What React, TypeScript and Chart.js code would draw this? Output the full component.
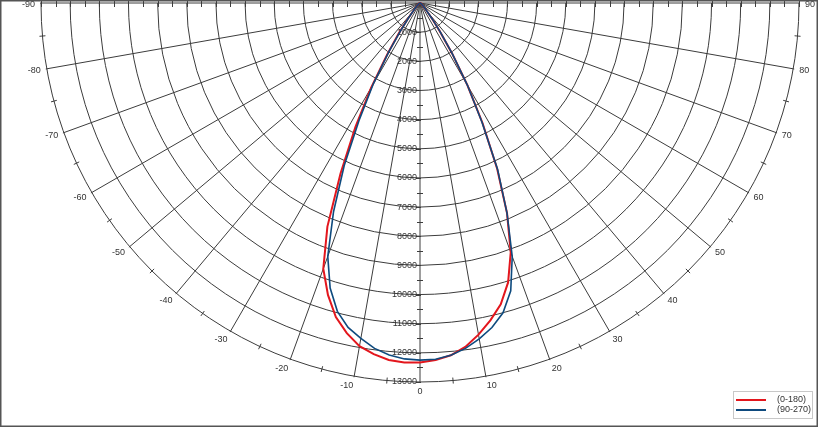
import React, { useEffect, useRef } from "react";
import { Chart, registerables } from "chart.js";

Chart.register(...registerables);

// Angles (degrees, 0 = straight down, negative = left)
const angles = [
  -90, -80, -70, -60, -50, -45, -40, -37.5, -35, -32.5, -30, -27.5, -25, -22.5, -20, -17.5, -15, -12.5, -10, -7.5,
  -5, -2.5, 0, 2.5, 5, 7.5, 10, 12.5, 15, 17.5, 20, 22.5, 25, 27.5, 30, 32.5, 35, 37.5, 40, 45, 50, 60, 70, 80, 90,
];

// Luminous intensity (cd) – plane C0-C180
const red0180 = [
  0, 10, 20, 40, 90, 170, 370, 700, 1250, 2100, 3350, 4800, 6450, 8300, 9700, 10500, 11150, 11600, 11950, 12150,
  12290, 12340, 12330, 12260, 12130, 11900, 11550, 11150, 10700, 10050, 9100, 7800, 6250, 4650, 3250, 2050, 1200, 700,
  370, 160, 90, 40, 20, 10, 0,
];

// Luminous intensity (cd) – plane C90-C270
const blue90270 = [
  0, 10, 20, 40, 90, 160, 350, 650, 1150, 2000, 3200, 4500, 6150, 7750, 9250, 10250, 10950, 11400, 11680, 11950,
  12120, 12220, 12250, 12230, 12130, 11950, 11700, 11400, 11000, 10350, 9250, 7800, 6300, 4600, 3250, 2050, 1200, 700,
  380, 170, 90, 40, 20, 10, 0,
];

const seriesNames = ["(0-180)", "(90-270)"];
const seriesColors = ["#e3161d", "#0e4a7e"];

const ringValues = [1000, 2000, 3000, 4000, 5000, 6000, 7000, 8000, 9000, 10000, 11000, 12000, 13000];
const ringLabels = ["1000", "2000", "3000", "4000", "5000", "6000", "7000", "8000", "9000", "10000", "11000", "12000", "13000"];
const angleTicks = [-90, -80, -70, -60, -50, -40, -30, -20, -10, 0, 10, 20, 30, 40, 50, 60, 70, 80, 90];
const angleLabels = ["-90", "-80", "-70", "-60", "-50", "-40", "-30", "-20", "-10", "0", "10", "20", "30", "40", "50", "60", "70", "80", "90"];
const minorAngleTicks = [-85, -75, -65, -55, -45, -35, -25, -15, -5, 5, 15, 25, 35, 45, 55, 65, 75, 85];
const maxValue = 13000;
const minorStep = 500;

const W = 818;
const H = 427;
const CX = 420;
const CY = 3;
const RPX = 379;
const K = maxValue / RPX; // units per pixel

const FONT = '9px "Liberation Sans", Arial, sans-serif';
const GRID = "#3c3c3c";
const TEXT = "#333333";

function toXY(vals: number[]) {
  return vals.map((v, i) => {
    const t = (angles[i] * Math.PI) / 180;
    return { x: v * Math.sin(t), y: -v * Math.cos(t) };
  });
}

const polarGrid = {
  id: "polarGrid",
  beforeDatasetsDraw(chart: any) {
    const ctx = chart.ctx as CanvasRenderingContext2D;
    const xs = chart.scales.x;
    const ys = chart.scales.y;
    const cx = xs.getPixelForValue(0);
    const cy = ys.getPixelForValue(0);
    const rp = (v: number) => xs.getPixelForValue(v) - cx;
    const R = rp(maxValue);
    ctx.save();
    ctx.strokeStyle = GRID;
    ctx.lineWidth = 1;
    // rings
    for (const v of ringValues) {
      ctx.beginPath();
      ctx.arc(cx, cy, rp(v), 0, Math.PI);
      ctx.stroke();
    }
    // radial lines
    for (const a of angleTicks) {
      const t = (a * Math.PI) / 180;
      ctx.beginPath();
      ctx.moveTo(cx, cy);
      ctx.lineTo(cx + (R + 1) * Math.sin(t), cy + (R + 1) * Math.cos(t));
      ctx.stroke();
    }
    // minor ticks on outer circle
    for (const a of minorAngleTicks) {
      const t = (a * Math.PI) / 180;
      ctx.beginPath();
      ctx.moveTo(cx + (R - 3) * Math.sin(t), cy + (R - 3) * Math.cos(t));
      ctx.lineTo(cx + (R + 3) * Math.sin(t), cy + (R + 3) * Math.cos(t));
      ctx.stroke();
    }
    // top axis ticks
    for (let v = -maxValue; v <= maxValue; v += minorStep) {
      if (v === 0) continue;
      const x = Math.round(cx + rp(v)) + 0.5;
      ctx.beginPath();
      ctx.moveTo(x, cy - 3);
      ctx.lineTo(x, cy + 4);
      ctx.stroke();
    }
    // vertical axis ticks
    for (let v = minorStep; v <= maxValue; v += minorStep) {
      const y = Math.round(cy + rp(v)) + 0.5;
      ctx.beginPath();
      if (v % 1000 === 0) {
        ctx.moveTo(cx - 4, y);
        ctx.lineTo(cx + 1, y);
      } else {
        ctx.moveTo(cx - 3, y);
        ctx.lineTo(cx + 3, y);
      }
      ctx.stroke();
    }
    // ring labels
    ctx.fillStyle = TEXT;
    ctx.font = FONT;
    ctx.textAlign = "right";
    ctx.textBaseline = "middle";
    ringValues.forEach((v, i) => {
      ctx.fillText(ringLabels[i], cx - 3, cy + rp(v));
    });
    // angle labels
    angleTicks.forEach((a, i) => {
      const t = (a * Math.PI) / 180;
      const dx = Math.sin(t);
      const dy = Math.cos(t);
      const px = cx + (R + 6) * dx;
      let py = cy + (R + 6) * dy + 3.5 * dy;
      if (Math.abs(a) === 90) py = cy + 2;
      ctx.textAlign = a < 0 ? "right" : a > 0 ? "left" : "center";
      ctx.textBaseline = "middle";
      ctx.fillText(angleLabels[i], px, py);
    });
    ctx.restore();
  },
  afterDraw(chart: any) {
    const ctx = chart.ctx as CanvasRenderingContext2D;
    ctx.save();
    // frame
    ctx.strokeStyle = "#555555";
    ctx.lineWidth = 1.5;
    ctx.strokeRect(0.75, 0.75, W - 1.5, H - 1.5);
    // legend
    const lx = 733;
    const ly = 391;
    const lw = 79;
    const lh = 27;
    ctx.fillStyle = "#ffffff";
    ctx.fillRect(lx, ly, lw, lh);
    ctx.strokeStyle = "#c8c8c8";
    ctx.lineWidth = 1;
    ctx.strokeRect(lx + 0.5, ly + 0.5, lw, lh);
    ctx.font = FONT;
    ctx.textAlign = "left";
    ctx.textBaseline = "middle";
    chart.data.datasets.forEach((ds: any, i: number) => {
      const y = ly + 9 + i * 10;
      ctx.strokeStyle = ds.borderColor;
      ctx.lineWidth = 2;
      ctx.beginPath();
      ctx.moveTo(lx + 3, y);
      ctx.lineTo(lx + 33, y);
      ctx.stroke();
      ctx.fillStyle = TEXT;
      ctx.fillText(ds.label, lx + 44, y);
    });
    ctx.restore();
  },
};

export default function App() {
  const ref = useRef<HTMLCanvasElement | null>(null);
  useEffect(() => {
    document.body.style.margin = "0";
    if (!ref.current) return;
    const chart = new Chart(ref.current, {
      type: "scatter",
      data: {
        datasets: [
          {
            label: seriesNames[0],
            data: toXY(red0180),
            borderColor: seriesColors[0],
            backgroundColor: seriesColors[0],
            borderWidth: 2,
            showLine: true,
            pointRadius: 0,
            order: 2,
          },
          {
            label: seriesNames[1],
            data: toXY(blue90270),
            borderColor: seriesColors[1],
            backgroundColor: seriesColors[1],
            borderWidth: 1.6,
            showLine: true,
            pointRadius: 0,
            order: 1,
          },
        ],
      },
      options: {
        responsive: false,
        animation: false,
        layout: { padding: 0 },
        plugins: { legend: { display: false }, tooltip: { enabled: false } },
        scales: {
          x: { type: "linear", display: false, min: -CX * K, max: (W - CX) * K },
          y: { type: "linear", display: false, min: -(H - CY) * K, max: CY * K },
        },
      },
      plugins: [polarGrid],
    });
    return () => chart.destroy();
  }, []);
  return (
    <div style={{ width: W, height: H }}>
      <style>{"body{margin:0}"}</style>
      <canvas ref={ref} width={W} height={H} style={{ display: "block", width: W, height: H }} />
    </div>
  );
}
